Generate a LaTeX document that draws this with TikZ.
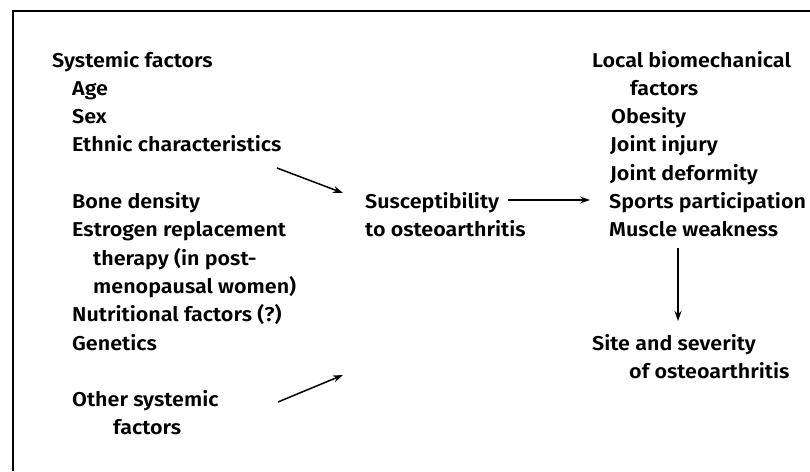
\documentclass[tikz,border=0pt]{standalone}
\usepackage{fontspec}
\setmainfont{Fira Sans}[UprightFont=* SemiBold, FakeStretch=1.075]
\usetikzlibrary{arrows.meta}
\tikzset{
  lbl/.style={anchor=base west, inner sep=0pt, font=\fontsize{20}{24}\selectfont},
  arr/.style={line width=1.5pt, -{Stealth[length=10pt,width=7pt]}},
  frame/.style={line width=2pt}
}
\begin{document}
\begin{tikzpicture}[x=1pt,y=-1pt]
\useasboundingbox (0,0) rectangle (810,471);
\draw[frame] (810,11) -- (13,11) -- (13,471);
% left column
\node[lbl] (sys)   at (52,67)    {Systemic factors};
\node[lbl] (age)   at (72,95.3)  {Age};
\node[lbl] (sex)   at (72,123.6) {Sex};
\node[lbl] (eth)   at (72,151.9) {Ethnic characteristics};
\node[lbl] (bone)  at (72,208.5) {Bone density};
\node[lbl] (estr)  at (72,236.8) {Estrogen replacement};
\node[lbl] (ther)  at (93,265.1) {therapy (in post-};
\node[lbl] (meno)  at (93,293.4) {menopausal women)};
\node[lbl] (nutr)  at (72,321.7) {Nutritional factors (?)};
\node[lbl] (gen)   at (72,350)   {Genetics};
\node[lbl] (oth)   at (72,406.6) {Other systemic};
\node[lbl] (othf)  at (113,434.9) {factors};
% middle
\node[lbl] (susc)  at (365,208.5) {Susceptibility};
\node[lbl] (susc2) at (365,236.8) {to osteoarthritis};
% right column
\node[lbl] (loc)   at (592,67)    {Local biomechanical};
\node[lbl] (locf)  at (630,95.3)  {factors};
\node[lbl] (obes)  at (611,123.6) {Obesity};
\node[lbl] (inj)   at (610,151.9) {Joint injury};
\node[lbl] (def)   at (610,180.2) {Joint deformity};
\node[lbl] (spo)   at (609,208.5) {Sports participation};
\node[lbl] (mus)   at (609,236.8) {Muscle weakness};
\node[lbl] (site)  at (592,350)   {Site and severity};
\node[lbl] (site2) at (629,378.3) {of osteoarthritis};
% connector ends
\coordinate (a1s) at (277,168);
\coordinate (a1e) at (343,193);
\coordinate (a2s) at (278,402);
\coordinate (a2e) at (343,375);
\coordinate (a3s) at (508,200);
\coordinate (a3e) at (590,200);
\coordinate (a4s) at (678,248);
\coordinate (a4e) at (678,321);
\draw[arr] (a1s) -- (a1e);
\draw[arr] (a2s) -- (a2e);
\draw[arr] (a3s) -- (a3e);
\draw[arr] (a4s) -- (a4e);
\end{tikzpicture}
\end{document}
